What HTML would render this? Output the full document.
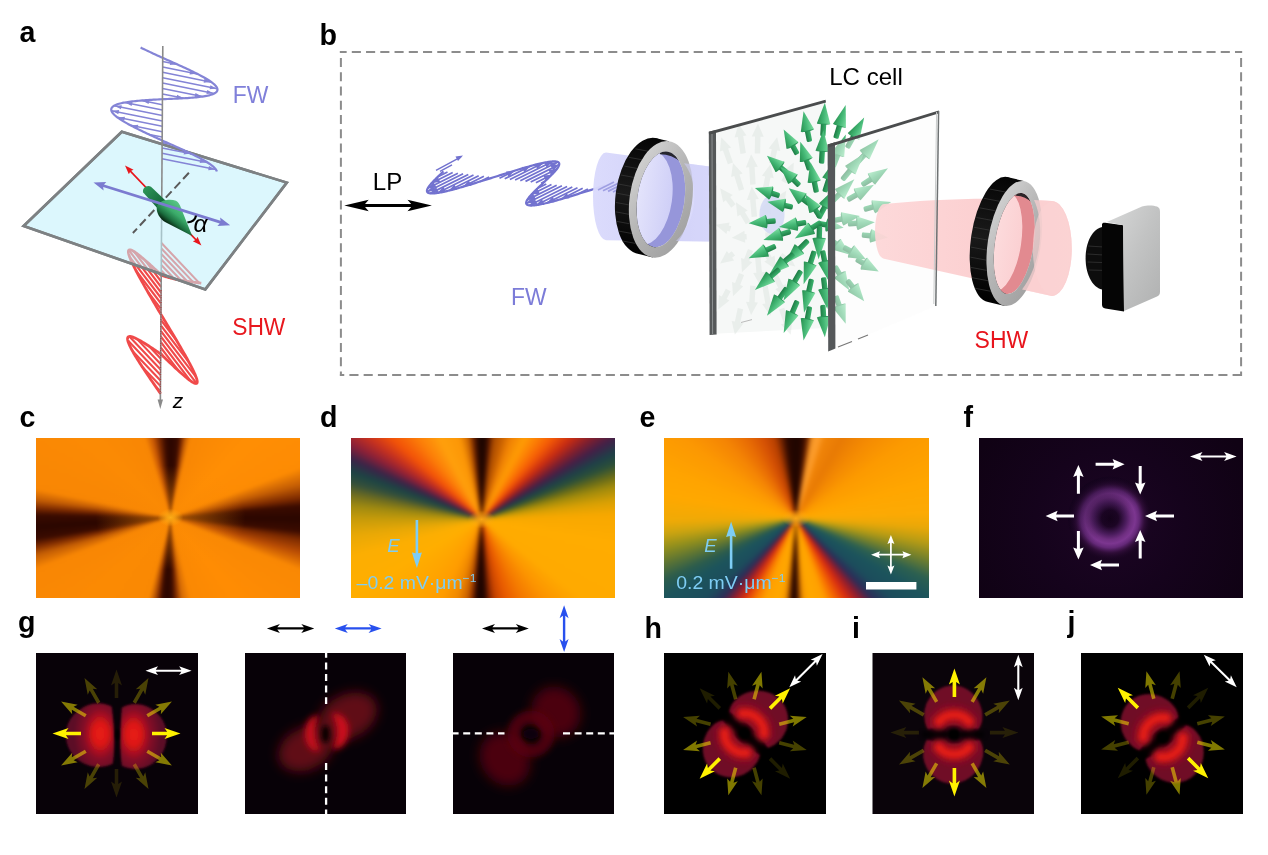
<!DOCTYPE html>
<html lang="en"><head><meta charset="utf-8"><title>Figure</title>
<style>
html,body{margin:0;padding:0;background:#fff;}
body{width:1268px;height:855px;overflow:hidden;position:relative;font-family:"Liberation Sans",sans-serif;}
#fig{position:absolute;left:0;top:0;width:1268px;height:855px;overflow:hidden;background:#fff;}
.pn{position:absolute;overflow:hidden;}
.pn>i{position:absolute;display:block;}
svg{position:absolute;left:0;top:0;}
text{font-family:"Liberation Sans",sans-serif;}
.lb{font-weight:bold;font-size:28.6px;fill:#000;}
</style></head>
<body><div id="fig">
<div class="pn" style="left:36px;top:438px;width:264px;height:160px;background:#fb8b04"><i style="left:-12px;top:-12px;width:288px;height:184px;background:conic-gradient(from 0deg at 146.5px 91.5px, #2a0600 0deg, #3a0b00 5.3deg, #7c2a00 8deg, #c25c04 10.5deg, #f88604 14deg, #ff8e04 45deg, #fd8b03 69deg, #c25c04 76deg, #7c2a00 81.5deg, #3a0b00 85deg, #2a0600 90.5deg, #3a0b00 96deg, #7c2a00 99.5deg, #b84c04 105deg, #f98804 112deg, #ff8c03 140deg, #fa8803 166deg, #d46a04 172deg, #7c2a00 176deg, #3a0b00 178.9deg, #2a0600 182.4deg, #3a0b00 185.9deg, #7c2a00 188.4deg, #c25c04 191.5deg, #f98803 195deg, #fb8a03 225deg, #f88604 249deg, #c25c04 254.5deg, #7c2a00 258deg, #3a0b00 261deg, #2a0600 266deg, #3a0b00 271deg, #7c2a00 274deg, #c25c04 277.5deg, #f88604 282deg, #fb8a04 315deg, #f88604 342deg, #c85804 347.5deg, #7c2a00 352deg, #3a0b00 356.3deg, #2a0600 360deg);filter:blur(1.8px)"></i><i style="left:0;top:0;width:264px;height:160px;background:radial-gradient(ellipse 75px 52px at 134.5px 79.5px, rgba(250,138,4,.62), rgba(250,138,4,.35) 45%, rgba(250,138,4,0) 100%)"></i><i style="left:0;top:0;width:264px;height:160px;background:radial-gradient(ellipse 13px 9px at 134.5px 79.5px, rgba(255,176,24,.95), rgba(255,150,10,0) 100%)"></i></div>
<div class="pn" style="left:350.5px;top:438px;width:264.5px;height:160px;background:#ffa400"><i style="left:-12px;top:-12px;width:288.5px;height:184px;background:conic-gradient(from 0deg at 142.5px 93.5px, #1a0500 0deg, #240700 3deg, #5a1800 5.5deg, #a84a00 8.5deg, #c86000 14deg, #f08204 20deg, #ff9c04 28deg, #fc7c04 35deg, #f45a06 41deg, #c82c12 48deg, #7c1e30 54deg, #422048 58.5deg, #1e4048 63.5deg, #2c5038 67.5deg, #6a6c18 72deg, #a08a0c 76deg, #d8a004 82deg, #f8a800 88deg, #ffac00 100deg, #ffaa00 128deg, #fc9400 141deg, #f47800 153deg, #e85a00 163deg, #c84400 170deg, #7a2000 175deg, #220500 177.5deg, #1c0400 183.5deg, #7a2400 186deg, #c86000 190deg, #f08800 197deg, #ff9c00 207deg, #ffa400 220deg, #ffae00 240deg, #fcae02 254deg, #e8a806 263deg, #c89c0a 270deg, #a08a10 276deg, #6e6c20 281deg, #36503a 285.5deg, #1c4444 290deg, #3a2448 295deg, #8a2038 300deg, #c43020 305.5deg, #f25208 312deg, #fc7e08 322deg, #ffa00c 333deg, #fc9606 345deg, #c86200 351deg, #6a2000 354.5deg, #260700 357.5deg, #1a0500 360deg);filter:blur(2.2px)"></i><i style="left:0;top:0;width:265px;height:160px;background:radial-gradient(ellipse 14px 9px at 130.5px 81.5px, rgba(255,170,20,.9), rgba(255,160,10,0) 100%)"></i></div>
<div class="pn" style="left:664px;top:438px;width:265px;height:160px;background:#ffa400"><i style="left:-12px;top:-12px;width:289px;height:184px;background:conic-gradient(from 0deg at 144px 92.29999999999995px, #1e0500 0deg, #2c0800 5deg, #7a2a00 8.5deg, #f09020 11deg, #ffa030 15deg, #f08408 20deg, #e87a04 30deg, #f48a02 42deg, #fc9a00 55deg, #ffa600 75deg, #fcaa04 88deg, #eaa808 94deg, #b89c14 100.5deg, #7c8428 106.5deg, #2c6050 114.5deg, #1c545c 121deg, #1c4c5c 130deg, #2c2c58 136.5deg, #8a1c30 141.5deg, #d82c10 147.5deg, #f87000 155.5deg, #ffa000 161deg, #ffa800 170deg, #f89800 175deg, #a04c00 177.5deg, #2a0800 179.6deg, #2a0800 183.2deg, #a04c00 185deg, #f89800 187.5deg, #ffa800 192deg, #ffa000 201deg, #f87800 206.5deg, #d83010 213deg, #8a1c30 218deg, #2c2c58 222.5deg, #1c4c5c 228.5deg, #1c545c 239deg, #2c5c4c 245deg, #5c7434 251deg, #94901c 257.5deg, #cca410 263.5deg, #f0aa06 269deg, #ffa800 280deg, #ffa400 290deg, #fc9802 305deg, #f48404 318deg, #e86c04 328deg, #d45004 338deg, #b84000 345deg, #6a2000 350deg, #2c0800 353.5deg, #1e0500 360deg);filter:blur(2.2px)"></i><i style="left:0;top:0;width:265px;height:160px;background:radial-gradient(ellipse 14px 9px at 132px 80.3px, rgba(255,170,20,.9), rgba(255,160,10,0) 100%)"></i></div>
<svg width="1268" height="855" viewBox="0 0 1268 855">
<defs>
<radialGradient id="fbg" cx="1110" cy="525" r="150" gradientUnits="userSpaceOnUse"><stop offset="0" stop-color="#1c0524"/><stop offset="0.5" stop-color="#15031c"/><stop offset="1" stop-color="#100214"/></radialGradient>
<radialGradient id="fring" cx="1110" cy="518.5" r="42" gradientUnits="userSpaceOnUse"><stop offset="0" stop-color="#14021a"/><stop offset="0.2" stop-color="#1c0524"/><stop offset="0.38" stop-color="#4a1c5c"/><stop offset="0.5" stop-color="#6e2e80"/><stop offset="0.6" stop-color="#7c3690"/><stop offset="0.7" stop-color="#642878"/><stop offset="0.82" stop-color="#36103f" stop-opacity=".8"/><stop offset="1" stop-color="#1a0522" stop-opacity="0"/></radialGradient>
<linearGradient id="fsh" x1="1085" y1="490" x2="1135" y2="548" gradientUnits="userSpaceOnUse"><stop offset="0" stop-color="#10021a" stop-opacity=".45"/><stop offset=".6" stop-color="#10021a" stop-opacity="0"/></linearGradient>
<filter id="bl1" x="-50%" y="-50%" width="200%" height="200%"><feGaussianBlur stdDeviation="1"/></filter>
<filter id="bl2" x="-50%" y="-50%" width="200%" height="200%"><feGaussianBlur stdDeviation="2"/></filter>
<filter id="bl3" x="-50%" y="-50%" width="200%" height="200%"><feGaussianBlur stdDeviation="3"/></filter>
<filter id="bl4" x="-50%" y="-50%" width="200%" height="200%"><feGaussianBlur stdDeviation="3.6"/></filter>
<filter id="bl6" x="-50%" y="-50%" width="200%" height="200%"><feGaussianBlur stdDeviation="6"/></filter>
<radialGradient id="lbL" cx="-16.5" cy="0" r="27" gradientTransform="scale(1 1.5)" gradientUnits="userSpaceOnUse"><stop offset="0" stop-color="#e81c12"/><stop offset="0.26" stop-color="#dc1814"/><stop offset="0.45" stop-color="#ac1020"/><stop offset="0.62" stop-color="#860c26"/><stop offset="0.85" stop-color="#6c0a28"/><stop offset="1" stop-color="#5c0826"/></radialGradient>
<radialGradient id="lbR" cx="17" cy="0.5" r="27" gradientTransform="scale(1 1.5)" gradientUnits="userSpaceOnUse"><stop offset="0" stop-color="#e81c12"/><stop offset="0.26" stop-color="#dc1814"/><stop offset="0.45" stop-color="#ac1020"/><stop offset="0.62" stop-color="#860c26"/><stop offset="0.85" stop-color="#6c0a28"/><stop offset="1" stop-color="#5c0826"/></radialGradient>
<linearGradient id="cyl" x1="0" y1="0" x2="1" y2="1" gradientUnits="objectBoundingBox"><stop offset="0" stop-color="#2f9a5c"/><stop offset="1" stop-color="#0e5a30"/></linearGradient>
<linearGradient id="cone" x1="182" y1="200" x2="160" y2="228" gradientUnits="userSpaceOnUse"><stop offset="0" stop-color="#66cf92"/><stop offset=".42" stop-color="#3aaa69"/><stop offset=".62" stop-color="#1c7040"/><stop offset=".78" stop-color="#06240f"/><stop offset="1" stop-color="#000"/></linearGradient>
<linearGradient id="blk" x1="0" y1="0" x2="0" y2="1"><stop offset="0" stop-color="#050505"/><stop offset=".5" stop-color="#1a1a1a"/><stop offset="1" stop-color="#000"/></linearGradient>
<linearGradient id="gry" x1="0" y1="0" x2="1" y2="1"><stop offset="0" stop-color="#d9d9d9"/><stop offset=".5" stop-color="#b4b4b4"/><stop offset="1" stop-color="#9c9c9c"/></linearGradient>
<linearGradient id="pb" x1="593" y1="0" x2="710" y2="0" gradientUnits="userSpaceOnUse"><stop offset="0" stop-color="#dadafc"/><stop offset=".5" stop-color="#d2d2f9"/><stop offset="1" stop-color="#dcdcfc"/></linearGradient>
<clipPath id="h1"><ellipse cx="660.9" cy="199.4" rx="23.6" ry="48.2"/></clipPath>
<linearGradient id="h1g" x1="0" y1="0" x2="1" y2="0"><stop offset="0" stop-color="#ebebfd"/><stop offset="1" stop-color="#cfcff7"/></linearGradient>
<linearGradient id="gs" x1="0" y1="0" x2="0" y2="1"><stop offset="0" stop-color="#1d7c45"/><stop offset="1" stop-color="#3cb46e"/></linearGradient>
<linearGradient id="gs2" x1="0" y1="0" x2="0" y2="1"><stop offset="0" stop-color="#3cb46e"/><stop offset="1" stop-color="#1d7c45"/></linearGradient>
<linearGradient id="gh" x1="0" y1="0" x2="0" y2="1"><stop offset="0" stop-color="#27904f"/><stop offset=".5" stop-color="#45b876"/><stop offset="1" stop-color="#7ddfa2"/></linearGradient>
<linearGradient id="gh2" x1="0" y1="0" x2="0" y2="1"><stop offset="0" stop-color="#7ddfa2"/><stop offset=".5" stop-color="#45b876"/><stop offset="1" stop-color="#27904f"/></linearGradient>
<linearGradient id="rb" x1="876" y1="0" x2="1072" y2="0" gradientUnits="userSpaceOnUse"><stop offset="0" stop-color="#fdd6d7"/><stop offset=".55" stop-color="#fbcccd"/><stop offset="1" stop-color="#fcd2d3"/></linearGradient>
<clipPath id="h2"><ellipse cx="1014.3" cy="243.5" rx="19.3" ry="51"/></clipPath>
<linearGradient id="h2g" x1="0" y1="0" x2="1" y2="0"><stop offset="0" stop-color="#fde0e1"/><stop offset="1" stop-color="#fbd0d2"/></linearGradient>
<linearGradient id="cam" x1="0" y1="0" x2="1" y2="1"><stop offset="0" stop-color="#d8d9d9"/><stop offset=".5" stop-color="#c2c3c3"/><stop offset="1" stop-color="#b0b1b1"/></linearGradient>
</defs>
<text class="lb" x="19.5" y="42">a</text>
<text class="lb" x="319.5" y="44.5">b</text>
<text class="lb" x="19.5" y="426.7">c</text>
<text class="lb" x="320" y="426.7">d</text>
<text class="lb" x="639.5" y="426.7">e</text>
<text class="lb" x="963.5" y="426.7">f</text>
<text class="lb" x="18" y="632.3">g</text>
<text class="lb" x="644.5" y="638">h</text>
<text class="lb" x="852" y="638">i</text>
<text class="lb" x="1067.4" y="632.3">j</text>
<path d="M339.9,51.9 H1242.1" stroke="#8c8c8c" stroke-width="2" stroke-dasharray="9.1 5.145" fill="none" stroke-dashoffset="2.345"/>
<path d="M339.9,374.9 H1242.1" stroke="#8c8c8c" stroke-width="2" stroke-dasharray="9.1 5.145" fill="none" stroke-dashoffset="4.745"/>
<path d="M340.9,50.9 V375.9" stroke="#8c8c8c" stroke-width="2" stroke-dasharray="9.1 5.145" fill="none" stroke-dashoffset="7.145"/>
<path d="M1241.1,50.9 V375.9" stroke="#8c8c8c" stroke-width="2" stroke-dasharray="9.1 5.145" fill="none" stroke-dashoffset="7.145"/>
<rect x="979" y="438" width="264" height="160" fill="url(#fbg)"/>
<ellipse cx="1110" cy="518.5" rx="42" ry="42" fill="url(#fring)"/><ellipse cx="1110" cy="518.5" rx="42" ry="42" fill="url(#fsh)"/>
<polygon points="1095.6,465.7 1114.04,465.7 1112.6,469.45 1124.6,464.2 1112.6,458.95 1114.04,462.7 1095.6,462.7" fill="#fff"/>
<polygon points="1138.7,466 1138.7,483.84 1134.95,482.4 1140.2,494.4 1145.45,482.4 1141.7,483.84 1141.7,466" fill="#fff"/>
<polygon points="1174,514.6 1155.56,514.6 1157,510.85 1145,516.1 1157,521.35 1155.56,517.6 1174,517.6" fill="#fff"/>
<polygon points="1141.7,558.4 1141.7,540.56 1145.45,542 1140.2,530 1134.95,542 1138.7,540.56 1138.7,558.4" fill="#fff"/>
<polygon points="1119,563.6 1100.56,563.6 1102,559.85 1090,565.1 1102,570.35 1100.56,566.6 1119,566.6" fill="#fff"/>
<polygon points="1076.9,531 1076.9,548.84 1073.15,547.4 1078.4,559.4 1083.65,547.4 1079.9,548.84 1079.9,531" fill="#fff"/>
<polygon points="1074,514.6 1056.16,514.6 1057.6,510.85 1045.6,516.1 1057.6,521.35 1056.16,517.6 1074,517.6" fill="#fff"/>
<polygon points="1079.9,493.8 1079.9,475.56 1083.65,477 1078.4,465 1073.15,477 1076.9,475.56 1076.9,493.8" fill="#fff"/>
<polygon points="1190,456.5 1202.5,460.9 1200.25,457.55 1226.35,457.55 1224.1,460.9 1236.6,456.5 1224.1,452.1 1226.35,455.45 1200.25,455.45 1202.5,452.1" fill="#fff"/>
<rect x="36" y="653" width="162" height="161" fill="#080208"/>
<rect x="245" y="653" width="161" height="161" fill="#070107"/>
<rect x="453" y="653" width="161" height="161" fill="#070107"/>
<rect x="664" y="653" width="162" height="161" fill="#000"/>
<rect x="872.5" y="653" width="161.5" height="161" fill="#0a040a"/>
<rect x="1081" y="653" width="162" height="161" fill="#000"/>
<g transform="translate(116.8 733.8) rotate(0)"><g filter="url(#bl1)"><path d="M-5,-27 C-22,-38 -51,-23 -51,1 C-51,25 -26,40 -4,30 C-1.5,14 -2.5,-8 -5,-27Z" fill="url(#lbL)"/><path d="M5,-26 C22,-37 50,-23 50,2 C50,27 26,42 5,32 C2.5,14 3.5,-8 5,-26Z" fill="url(#lbR)"/></g><ellipse cx="0.5" cy="1" rx="1.8" ry="6" fill="#050104" filter="url(#bl1)"/></g>
<polygon points="152,735.3 167.06,735.3 164.5,739 180.5,733.5 164.5,728 167.06,731.7 152,731.7" fill="#fff200" opacity="1.0"/>
<polygon points="148.14,717.31 161.19,709.78 160.82,714.26 171.93,701.5 155.32,704.74 159.39,706.66 146.34,714.19" fill="#fff200" opacity="0.5"/>
<polygon points="135.81,703.66 143.34,690.61 145.26,694.68 148.5,678.07 135.74,689.18 140.22,688.81 132.69,701.86" fill="#fff200" opacity="0.27"/>
<polygon points="118.3,698 118.3,682.94 122,685.5 116.5,669.5 111,685.5 114.7,682.94 114.7,698" fill="#fff200" opacity="0.12"/>
<polygon points="100.31,701.86 92.78,688.81 97.26,689.18 84.5,678.07 87.74,694.68 89.66,690.61 97.19,703.66" fill="#fff200" opacity="0.27"/>
<polygon points="86.66,714.19 73.61,706.66 77.68,704.74 61.07,701.5 72.18,714.26 71.81,709.78 84.86,717.31" fill="#fff200" opacity="0.5"/>
<polygon points="81,731.7 65.94,731.7 68.5,728 52.5,733.5 68.5,739 65.94,735.3 81,735.3" fill="#fff200" opacity="1.0"/>
<polygon points="84.86,749.69 71.81,757.22 72.18,752.74 61.07,765.5 77.68,762.26 73.61,760.34 86.66,752.81" fill="#fff200" opacity="0.5"/>
<polygon points="97.19,763.34 89.66,776.39 87.74,772.32 84.5,788.93 97.26,777.82 92.78,778.19 100.31,765.14" fill="#fff200" opacity="0.27"/>
<polygon points="114.7,769 114.7,784.06 111,781.5 116.5,797.5 122,781.5 118.3,784.06 118.3,769" fill="#fff200" opacity="0.12"/>
<polygon points="132.69,765.14 140.22,778.19 135.74,777.82 148.5,788.93 145.26,772.32 143.34,776.39 135.81,763.34" fill="#fff200" opacity="0.27"/>
<polygon points="146.34,752.81 159.39,760.34 155.32,762.26 171.93,765.5 160.82,752.74 161.19,757.22 148.14,749.69" fill="#fff200" opacity="0.5"/>
<polygon points="145.5,670.7 158,675.1 155.75,671.75 181.35,671.75 179.1,675.1 191.6,670.7 179.1,666.3 181.35,669.65 155.75,669.65 158,666.3" fill="#fff"/>
<g transform="translate(744.3 733.2) rotate(-47)"><g filter="url(#bl1)"><path d="M-5,-24 C-20,-36 -49,-22 -49,1 C-49,23 -24,37 -5,26 C-11,10 -11,-8 -5,-24Z" fill="#700c28"/><path d="M5,-25 C20,-37 49,-22 49,2 C49,24 24,38 5,27 C11,10 11,-8 5,-25Z" fill="#700c28"/></g><g filter="url(#bl3)" fill="none" stroke="#9c0e22" stroke-width="19" stroke-linecap="round"><path d="M-12.5,-14 A19 19 0 0 0 -12.5,15"/><path d="M12.5,-15 A19 19 0 0 1 12.5,14"/></g><g filter="url(#bl2)" fill="none" stroke="#e01a12" stroke-width="8.5" stroke-linecap="round"><path d="M-13,-15 A20 20 0 0 0 -13,15"/><path d="M13,-15 A20 20 0 0 1 13,15"/></g><ellipse cx="0" cy="0" rx="5" ry="5.5" fill="#030003" filter="url(#bl1)"/><path d="M-2.5,-30 L2.5,-30 L3,-6 L-3,-6Z M-3,6 L3,6 L2.5,32 L-2.5,32Z" fill="#030003" filter="url(#bl2)" opacity=".85"/></g>
<polygon points="779.66,726.05 794.2,722.15 792.69,726.39 806.72,716.94 789.84,715.76 793.27,718.68 778.72,722.57" fill="#fff200" opacity="0.5"/>
<polygon points="771.28,709.67 781.92,699.02 782.73,703.45 790.15,688.25 774.95,695.67 779.38,696.48 768.73,707.12" fill="#fff200" opacity="1.0"/>
<polygon points="755.83,699.68 759.72,685.13 762.64,688.56 761.46,671.68 752.01,685.71 756.25,684.2 752.35,698.74" fill="#fff200" opacity="0.5"/>
<polygon points="737.45,698.74 733.55,684.2 737.79,685.71 728.34,671.68 727.16,688.56 730.08,685.13 733.97,699.68" fill="#fff200" opacity="0.27"/>
<polygon points="721.07,707.12 710.42,696.48 714.85,695.67 699.65,688.25 707.07,703.45 707.88,699.02 718.52,709.67" fill="#fff200" opacity="0.12"/>
<polygon points="711.08,722.57 696.53,718.68 699.96,715.76 683.08,716.94 697.11,726.39 695.6,722.15 710.14,726.05" fill="#fff200" opacity="0.27"/>
<polygon points="710.14,740.95 695.6,744.85 697.11,740.61 683.08,750.06 699.96,751.24 696.53,748.32 711.08,744.43" fill="#fff200" opacity="0.5"/>
<polygon points="718.52,757.33 707.88,767.98 707.07,763.55 699.65,778.75 714.85,771.33 710.42,770.52 721.07,759.88" fill="#fff200" opacity="1.0"/>
<polygon points="733.97,767.32 730.08,781.87 727.16,778.44 728.34,795.32 737.79,781.29 733.55,782.8 737.45,768.26" fill="#fff200" opacity="0.5"/>
<polygon points="752.35,768.26 756.25,782.8 752.01,781.29 761.46,795.32 762.64,778.44 759.72,781.87 755.83,767.32" fill="#fff200" opacity="0.27"/>
<polygon points="768.73,759.88 779.38,770.52 774.95,771.33 790.15,778.75 782.73,763.55 781.92,767.98 771.28,757.33" fill="#fff200" opacity="0.12"/>
<polygon points="778.72,744.43 793.27,748.32 789.84,751.24 806.72,750.06 792.69,740.61 794.2,744.85 779.66,740.95" fill="#fff200" opacity="0.27"/>
<polygon points="789.3,687.2 801.25,681.47 797.29,680.69 816.09,661.89 816.87,665.85 822.6,653.9 810.65,659.63 814.61,660.41 795.81,679.21 795.03,675.25" fill="#fff"/>
<g transform="translate(954 734.5) rotate(90)"><g filter="url(#bl1)"><path d="M-5,-24 C-20,-36 -49,-22 -49,1 C-49,23 -24,37 -5,26 C-11,10 -11,-8 -5,-24Z" fill="#700c28"/><path d="M5,-25 C20,-37 49,-22 49,2 C49,24 24,38 5,27 C11,10 11,-8 5,-25Z" fill="#700c28"/></g><g filter="url(#bl3)" fill="none" stroke="#9c0e22" stroke-width="19" stroke-linecap="round"><path d="M-12.5,-14 A19 19 0 0 0 -12.5,15"/><path d="M12.5,-15 A19 19 0 0 1 12.5,14"/></g><g filter="url(#bl2)" fill="none" stroke="#e01a12" stroke-width="8.5" stroke-linecap="round"><path d="M-13,-15 A20 20 0 0 0 -13,15"/><path d="M13,-15 A20 20 0 0 1 13,15"/></g><ellipse cx="0" cy="0" rx="5" ry="5.5" fill="#030003" filter="url(#bl1)"/><path d="M-2.5,-30 L2.5,-30 L3,-6 L-3,-6Z M-3,6 L3,6 L2.5,32 L-2.5,32Z" fill="#030003" filter="url(#bl2)" opacity=".85"/></g>
<polygon points="989.9,734.4 1004.96,734.4 1002.4,738.1 1018.4,732.6 1002.4,727.1 1004.96,730.8 989.9,730.8" fill="#fff200" opacity="0.12"/>
<polygon points="986.04,716.41 999.09,708.88 998.72,713.36 1009.83,700.6 993.22,703.84 997.29,705.76 984.24,713.29" fill="#fff200" opacity="0.27"/>
<polygon points="973.71,702.76 981.24,689.71 983.16,693.78 986.4,677.17 973.64,688.28 978.12,687.91 970.59,700.96" fill="#fff200" opacity="0.5"/>
<polygon points="956.2,697.1 956.2,682.04 959.9,684.6 954.4,668.6 948.9,684.6 952.6,682.04 952.6,697.1" fill="#fff200" opacity="1.0"/>
<polygon points="938.21,700.96 930.68,687.91 935.16,688.28 922.4,677.17 925.64,693.78 927.56,689.71 935.09,702.76" fill="#fff200" opacity="0.5"/>
<polygon points="924.56,713.29 911.51,705.76 915.58,703.84 898.97,700.6 910.08,713.36 909.71,708.88 922.76,716.41" fill="#fff200" opacity="0.27"/>
<polygon points="918.9,730.8 903.84,730.8 906.4,727.1 890.4,732.6 906.4,738.1 903.84,734.4 918.9,734.4" fill="#fff200" opacity="0.12"/>
<polygon points="922.76,748.79 909.71,756.32 910.08,751.84 898.97,764.6 915.58,761.36 911.51,759.44 924.56,751.91" fill="#fff200" opacity="0.27"/>
<polygon points="935.09,762.44 927.56,775.49 925.64,771.42 922.4,788.03 935.16,776.92 930.68,777.29 938.21,764.24" fill="#fff200" opacity="0.5"/>
<polygon points="952.6,768.1 952.6,783.16 948.9,780.6 954.4,796.6 959.9,780.6 956.2,783.16 956.2,768.1" fill="#fff200" opacity="1.0"/>
<polygon points="970.59,764.24 978.12,777.29 973.64,776.92 986.4,788.03 983.16,771.42 981.24,775.49 973.71,762.44" fill="#fff200" opacity="0.5"/>
<polygon points="984.24,751.91 997.29,759.44 993.22,761.36 1009.83,764.6 998.72,751.84 999.09,756.32 986.04,748.79" fill="#fff200" opacity="0.27"/>
<polygon points="1018.3,654.7 1013.9,667.2 1017.25,664.95 1017.25,689.95 1013.9,687.7 1018.3,700.2 1022.7,687.7 1019.35,689.95 1019.35,664.95 1022.7,667.2" fill="#fff"/>
<g transform="translate(1163 737.5) rotate(50)"><g filter="url(#bl1)"><path d="M-5,-24 C-20,-36 -49,-22 -49,1 C-49,23 -24,37 -5,26 C-11,10 -11,-8 -5,-24Z" fill="#700c28"/><path d="M5,-25 C20,-37 49,-22 49,2 C49,24 24,38 5,27 C11,10 11,-8 5,-25Z" fill="#700c28"/></g><g filter="url(#bl3)" fill="none" stroke="#9c0e22" stroke-width="19" stroke-linecap="round"><path d="M-12.5,-14 A19 19 0 0 0 -12.5,15"/><path d="M12.5,-15 A19 19 0 0 1 12.5,14"/></g><g filter="url(#bl2)" fill="none" stroke="#e01a12" stroke-width="8.5" stroke-linecap="round"><path d="M-13,-15 A20 20 0 0 0 -13,15"/><path d="M13,-15 A20 20 0 0 1 13,15"/></g><ellipse cx="0" cy="0" rx="5" ry="5.5" fill="#030003" filter="url(#bl1)"/><path d="M-2.5,-30 L2.5,-30 L3,-6 L-3,-6Z M-3,6 L3,6 L2.5,32 L-2.5,32Z" fill="#030003" filter="url(#bl2)" opacity=".85"/></g>
<polygon points="1197.76,725.55 1212.3,721.65 1210.79,725.89 1224.82,716.44 1207.94,715.26 1211.37,718.18 1196.82,722.07" fill="#fff200" opacity="0.27"/>
<polygon points="1189.38,709.17 1200.02,698.52 1200.83,702.95 1208.25,687.75 1193.05,695.17 1197.48,695.98 1186.83,706.62" fill="#fff200" opacity="0.12"/>
<polygon points="1173.93,699.18 1177.82,684.63 1180.74,688.06 1179.56,671.18 1170.11,685.21 1174.35,683.7 1170.45,698.24" fill="#fff200" opacity="0.27"/>
<polygon points="1155.55,698.24 1151.65,683.7 1155.89,685.21 1146.44,671.18 1145.26,688.06 1148.18,684.63 1152.07,699.18" fill="#fff200" opacity="0.5"/>
<polygon points="1139.17,706.62 1128.52,695.98 1132.95,695.17 1117.75,687.75 1125.17,702.95 1125.98,698.52 1136.62,709.17" fill="#fff200" opacity="1.0"/>
<polygon points="1129.18,722.07 1114.63,718.18 1118.06,715.26 1101.18,716.44 1115.21,725.89 1113.7,721.65 1128.24,725.55" fill="#fff200" opacity="0.5"/>
<polygon points="1128.24,740.45 1113.7,744.35 1115.21,740.11 1101.18,749.56 1118.06,750.74 1114.63,747.82 1129.18,743.93" fill="#fff200" opacity="0.27"/>
<polygon points="1136.62,756.83 1125.98,767.48 1125.17,763.05 1117.75,778.25 1132.95,770.83 1128.52,770.02 1139.17,759.38" fill="#fff200" opacity="0.12"/>
<polygon points="1152.07,766.82 1148.18,781.37 1145.26,777.94 1146.44,794.82 1155.89,780.79 1151.65,782.3 1155.55,767.76" fill="#fff200" opacity="0.27"/>
<polygon points="1170.45,767.76 1174.35,782.3 1170.11,780.79 1179.56,794.82 1180.74,777.94 1177.82,781.37 1173.93,766.82" fill="#fff200" opacity="0.5"/>
<polygon points="1186.83,759.38 1197.48,770.02 1193.05,770.83 1208.25,778.25 1200.83,763.05 1200.02,767.48 1189.38,756.83" fill="#fff200" opacity="1.0"/>
<polygon points="1196.82,743.93 1211.37,747.82 1207.94,750.74 1224.82,749.56 1210.79,740.11 1212.3,744.35 1197.76,740.45" fill="#fff200" opacity="0.5"/>
<polygon points="1203.8,654.7 1209.6,666.61 1210.35,662.65 1228.67,680.74 1224.72,681.55 1236.7,687.2 1230.9,675.29 1230.15,679.25 1211.83,661.16 1215.78,660.35" fill="#fff"/>
<g transform="translate(326 733) rotate(-27)" filter="url(#bl6)"><ellipse cx="-25" cy="5" rx="29" ry="21" fill="#6a0818" opacity=".9"/><ellipse cx="27" cy="-5" rx="31" ry="22" fill="#6a0818" opacity=".9"/></g>
<g transform="translate(325.5 733)" filter="url(#bl3)"><path d="M-6,-17 C-17,-19 -22,-6 -20,6 C-18,16 -11,20 -5,17 C-12,8 -12,-7 -6,-17Z" fill="#c80a1a"/><path d="M6,-19 C18,-22 25,-9 23,1 C21,12 14,18 6,15 C13,6 13,-9 6,-19Z" fill="#cc0a1a"/></g>
<ellipse cx="325.5" cy="734" rx="4.5" ry="9" fill="#0a0206" filter="url(#bl2)"/>
<line x1="326.1" y1="650.8" x2="326.1" y2="704" stroke="#fff" stroke-width="2.3" stroke-dasharray="7 4.6"/>
<line x1="326.1" y1="763" x2="326.1" y2="814" stroke="#fff" stroke-width="2.3" stroke-dasharray="7 4.6"/>
<polygon points="266.9,628.4 279.9,632.9 277.3,629.6 303.9,629.6 301.3,632.9 314.3,628.4 301.3,623.9 303.9,627.2 277.3,627.2 279.9,623.9" fill="#000"/>
<polygon points="334.8,628.4 347.8,632.9 345.2,629.6 371.2,629.6 368.6,632.9 381.6,628.4 368.6,623.9 371.2,627.2 345.2,627.2 347.8,623.9" fill="#2850ee"/>
<g filter="url(#bl6)"><ellipse cx="556" cy="712" rx="24" ry="26" fill="#5c0412" opacity=".8" transform="rotate(-35 556 712)"/><ellipse cx="505" cy="759" rx="24" ry="28" fill="#5c0412" opacity=".8" transform="rotate(-35 505 759)"/></g>
<g filter="url(#bl3)"><circle cx="531" cy="734" r="17" fill="none" stroke="#5c0410" stroke-width="13" opacity=".8"/></g>
<ellipse cx="531" cy="734" rx="8" ry="5" fill="#10020a" filter="url(#bl2)"/>
<line x1="451.6" y1="733.4" x2="504.5" y2="733.4" stroke="#fff" stroke-width="2.3" stroke-dasharray="7 4.6"/>
<line x1="563" y1="733.4" x2="614.2" y2="733.4" stroke="#fff" stroke-width="2.3" stroke-dasharray="7 4.6"/>
<polygon points="482,628.4 495,632.9 492.4,629.6 518.4,629.6 515.8,632.9 528.8,628.4 515.8,623.9 518.4,627.2 492.4,627.2 495,623.9" fill="#000"/>
<polygon points="564.1,605.3 559.6,618.3 562.9,615.7 562.9,641.6 559.6,639 564.1,652 568.6,639 565.3,641.6 565.3,615.7 568.6,618.3" fill="#2850ee"/>
<g stroke="#f04a4a" fill="none" stroke-linecap="butt"><path d="M161.44,243L199.17,282.9M161.4,248.5L193.22,282.15M161.36,254L187.15,281.27M161.33,259.5L180.92,280.22M161.29,265L174.45,278.92M161.25,270.5L167.59,277.21M161.21,276L158.35,272.25M161.17,281.5L144.77,259.97M161.14,287L134.28,251.75M161.1,292.5L128.85,250.17M161.06,298L129.49,256.56M161.02,303.5L136.08,270.75M160.98,309L147.36,291.11M160.91,320L176.61,340.53M160.87,325.5L189.02,362.32M160.83,331L196.14,377.18M160.79,336.5L196.6,383.33M160.76,342L190.32,380.67M160.72,347.5L178.48,370.73M160.68,353L163.29,356.41M160.64,358.5L148.84,346.02M160.6,364L136.87,338.9M160.57,369.5L129.37,336.51M160.53,375L127.74,340.33M160.49,380.5L132.28,350.67M160.45,386L142.14,366.64M160.41,391.5L155.45,386.25" stroke-width="2.1"/><path d="M201.3,283.14 L200.77,283.08 L200.24,283.02 L199.7,282.96 L199.17,282.9 L198.63,282.83 L198.1,282.77 L197.56,282.7 L197.02,282.64 L196.48,282.57 L195.94,282.5 L195.4,282.43 L194.85,282.36 L194.31,282.29 L193.77,282.22 L193.22,282.15 L192.68,282.07 L192.13,282 L191.58,281.92 L191.03,281.85 L190.48,281.77 L189.93,281.69 L189.37,281.61 L188.82,281.52 L188.26,281.44 L187.71,281.35 L187.15,281.27 L186.59,281.18 L186.03,281.09 L185.47,281 L184.9,280.91 L184.34,280.81 L183.77,280.72 L183.2,280.62 L182.63,280.52 L182.06,280.42 L181.49,280.32 L180.92,280.22 L180.34,280.11 L179.76,280 L179.18,279.89 L178.6,279.78 L178.01,279.66 L177.42,279.55 L176.83,279.43 L176.24,279.3 L175.65,279.18 L175.05,279.05 L174.45,278.92 L173.85,278.78 L173.24,278.65 L172.63,278.51 L172.02,278.36 L171.4,278.21 L170.78,278.06 L170.15,277.9 L169.52,277.74 L168.88,277.57 L168.24,277.39 L167.59,277.21 L166.94,277.02 L166.27,276.82 L165.6,276.61 L164.91,276.39 L164.21,276.15 L163.49,275.89 L162.75,275.61 L161.95,275.28 L160.96,274.66 L159.65,273.45 L158.35,272.25 L157.06,271.05 L155.76,269.86 L154.48,268.68 L153.21,267.52 L151.95,266.37 L150.71,265.24 L149.48,264.13 L148.27,263.05 L147.08,261.99 L145.92,260.97 L144.77,259.97 L143.66,259.01 L142.57,258.09 L141.51,257.2 L140.48,256.36 L139.49,255.55 L138.53,254.8 L137.6,254.09 L136.71,253.43 L135.86,252.82 L135.05,252.26 L134.28,251.75 L133.56,251.3 L132.88,250.91 L132.24,250.58 L131.65,250.31 L131.1,250.1 L130.6,249.95 L130.15,249.86 L129.75,249.84 L129.4,249.89 L129.1,249.99 L128.85,250.17 L128.65,250.41 L128.5,250.72 L128.41,251.1 L128.36,251.55 L128.37,252.06 L128.43,252.64 L128.54,253.29 L128.7,254.01 L128.91,254.79 L129.18,255.64 L129.49,256.56 L129.85,257.54 L130.27,258.59 L130.73,259.7 L131.24,260.87 L131.8,262.11 L132.4,263.41 L133.05,264.76 L133.74,266.18 L134.48,267.65 L135.26,269.17 L136.08,270.75 L136.93,272.38 L137.83,274.07 L138.76,275.79 L139.73,277.57 L140.73,279.39 L141.77,281.25 L142.83,283.15 L143.92,285.09 L145.04,287.07 L146.19,289.07 L147.36,291.11 L148.55,293.18 L149.76,295.27 L150.99,297.39 L152.23,299.53 L153.49,301.68 L154.75,303.85 L156.03,306.03 L157.32,308.23 L158.61,310.43 L159.91,312.63 L161.24,314.88 L162.68,317.27 L164.12,319.66 L165.56,322.05 L166.99,324.42 L168.41,326.79 L169.82,329.13 L171.21,331.46 L172.59,333.77 L173.95,336.05 L175.29,338.31 L176.61,340.53 L177.9,342.73 L179.16,344.89 L180.4,347.01 L181.6,349.09 L182.78,351.13 L183.91,353.12 L185.02,355.06 L186.08,356.96 L187.1,358.8 L188.08,360.59 L189.02,362.32 L189.92,364 L190.77,365.61 L191.57,367.16 L192.32,368.65 L193.02,370.08 L193.67,371.43 L194.27,372.72 L194.82,373.94 L195.31,375.09 L195.75,376.17 L196.14,377.18 L196.46,378.11 L196.74,378.97 L196.95,379.76 L197.11,380.47 L197.21,381.1 L197.25,381.66 L197.24,382.15 L197.16,382.56 L197.03,382.89 L196.85,383.15 L196.6,383.33 L196.3,383.45 L195.94,383.48 L195.53,383.45 L195.06,383.34 L194.54,383.16 L193.97,382.91 L193.34,382.6 L192.66,382.21 L191.93,381.76 L191.15,381.25 L190.32,380.67 L189.45,380.03 L188.53,379.34 L187.57,378.58 L186.56,377.77 L185.52,376.91 L184.43,375.99 L183.31,375.03 L182.15,374.02 L180.96,372.96 L179.73,371.86 L178.48,370.73 L177.19,369.55 L175.89,368.35 L174.55,367.11 L173.2,365.84 L171.82,364.55 L170.43,363.23 L169.02,361.9 L167.6,360.54 L166.17,359.18 L164.73,357.8 L163.29,356.41 L161.84,355.02 L160.41,353.72 L159.1,352.84 L157.78,351.95 L156.48,351.07 L155.18,350.2 L153.88,349.34 L152.6,348.49 L151.33,347.65 L150.08,346.83 L148.84,346.02 L147.62,345.24 L146.43,344.48 L145.25,343.74 L144.1,343.02 L142.98,342.34 L141.88,341.68 L140.81,341.05 L139.77,340.46 L138.77,339.91 L137.8,339.38 L136.87,338.9 L135.97,338.46 L135.12,338.06 L134.3,337.7 L133.53,337.38 L132.8,337.11 L132.11,336.89 L131.47,336.71 L130.87,336.59 L130.32,336.51 L129.82,336.48 L129.37,336.51 L128.96,336.58 L128.61,336.71 L128.31,336.9 L128.05,337.13 L127.85,337.42 L127.7,337.77 L127.61,338.17 L127.56,338.63 L127.57,339.14 L127.63,339.7 L127.74,340.33 L127.9,341 L128.12,341.73 L128.38,342.52 L128.7,343.36 L129.06,344.25 L129.48,345.19 L129.95,346.19 L130.46,347.23 L131.02,348.33 L131.63,349.48 L132.28,350.67 L132.98,351.92 L133.72,353.2 L134.51,354.54 L135.33,355.91 L136.2,357.33 L137.1,358.79 L138.04,360.29 L139.02,361.82 L140.03,363.4 L141.07,365 L142.14,366.64 L143.24,368.31 L144.37,370 L145.53,371.73 L146.71,373.48 L147.9,375.25 L149.12,377.04 L150.36,378.85 L151.61,380.68 L152.88,382.53 L154.16,384.38 L155.45,386.25 L156.75,388.12 L158.05,390.01 L159.35,391.89 L160.66,393.78" stroke-width="2.8" stroke-linejoin="round"/></g>
<line x1="161.66" y1="211" x2="160.36" y2="400" stroke="#8a8a8a" stroke-width="1.6"/>
<polygon points="157.59,399.5 160.29,409 162.99,399.5" fill="#8a8a8a"/>
<line x1="161.11" y1="290" x2="160.4" y2="394" stroke="#b03030" stroke-width="1.2" stroke-dasharray="1.2 1.2" opacity=".8"/>
<polygon points="121.8,131.8 286.8,182.6 205.3,289.4 23.6,226" fill="#bff0fc" fill-opacity=".55" stroke="#7d8183" stroke-width="2.6" stroke-linejoin="miter"/>
<polygon points="121.8,131.8 286.8,182.6 205.3,289.4 23.6,226" fill="none" stroke="#7d8183" stroke-width="2.6"/>
<g stroke="#8484d6" fill="none"><path d="M162.69,61.5L177.54,64.49M162.66,66.9L197.37,73.9M162.62,72.3L211.43,82.14M162.58,77.7L217.36,88.75M162.54,83.1L214.18,93.51M162.51,88.5L202.41,96.55M162.47,93.9L184.01,98.24M162.39,104.7L141.65,100.52M162.36,110.1L124.71,102.51M162.32,115.5L114.04,105.76M162.28,120.9L111.39,110.64M162.25,126.3L117.22,117.22M162.21,131.7L130.53,125.31M162.17,137.1L149.11,134.47M162.13,142.5L170.45,144.18M162.1,147.9L191.39,153.81M162.06,153.3L207.45,162.45M162.02,158.7L215.97,169.58" stroke-width="1.5"/><path d="M140.61,47.53 L142.37,48.39 L144.16,49.25 L145.98,50.12 L147.82,50.99 L149.68,51.87 L151.57,52.75 L153.47,53.63 L155.38,54.52 L157.3,55.41 L159.23,56.3 L161.17,57.19 L163.13,58.08 L165.22,59.01 L167.3,59.93 L169.37,60.84 L171.44,61.76 L173.49,62.67 L175.52,63.59 L177.54,64.49 L179.53,65.4 L181.5,66.29 L183.45,67.19 L185.36,68.07 L187.24,68.95 L189.09,69.83 L190.9,70.69 L192.66,71.55 L194.39,72.4 L196.06,73.24 L197.69,74.06 L199.27,74.88 L200.79,75.69 L202.26,76.49 L203.68,77.27 L205.03,78.05 L206.32,78.81 L207.55,79.56 L208.72,80.29 L209.81,81.01 L210.84,81.72 L211.8,82.42 L212.69,83.1 L213.5,83.76 L214.25,84.41 L214.91,85.05 L215.51,85.67 L216.02,86.27 L216.46,86.86 L216.82,87.43 L217.1,87.99 L217.3,88.53 L217.43,89.06 L217.47,89.57 L217.44,90.06 L217.32,90.54 L217.13,91 L216.85,91.45 L216.5,91.88 L216.07,92.29 L215.57,92.69 L214.98,93.07 L214.32,93.44 L213.59,93.79 L212.78,94.13 L211.9,94.45 L210.95,94.76 L209.93,95.06 L208.84,95.34 L207.68,95.61 L206.46,95.86 L205.17,96.1 L203.82,96.33 L202.41,96.55 L200.95,96.75 L199.43,96.95 L197.85,97.13 L196.23,97.3 L194.55,97.47 L192.83,97.62 L191.07,97.76 L189.26,97.9 L187.42,98.03 L185.53,98.15 L183.62,98.27 L181.68,98.37 L179.7,98.48 L177.71,98.57 L175.69,98.67 L173.65,98.76 L171.59,98.84 L169.52,98.93 L167.44,99.01 L165.36,99.09 L163.27,99.17 L161.27,99.27 L159.32,99.37 L157.38,99.48 L155.45,99.59 L153.53,99.71 L151.62,99.82 L149.73,99.94 L147.85,100.07 L146,100.19 L144.17,100.32 L142.37,100.46 L140.59,100.6 L138.85,100.75 L137.14,100.91 L135.47,101.07 L133.83,101.24 L132.24,101.42 L130.69,101.61 L129.19,101.81 L127.74,102.02 L126.33,102.23 L124.98,102.46 L123.68,102.7 L122.44,102.95 L121.25,103.21 L120.13,103.49 L119.06,103.77 L118.06,104.07 L117.12,104.38 L116.25,104.71 L115.44,105.05 L114.71,105.4 L114.04,105.76 L113.44,106.14 L112.91,106.54 L112.45,106.95 L112.07,107.37 L111.75,107.81 L111.52,108.26 L111.35,108.73 L111.26,109.21 L111.24,109.71 L111.3,110.22 L111.42,110.75 L111.63,111.29 L111.9,111.84 L112.25,112.41 L112.67,113 L113.17,113.6 L113.73,114.21 L114.37,114.84 L115.07,115.49 L115.84,116.14 L116.68,116.81 L117.59,117.5 L118.55,118.19 L119.59,118.9 L120.68,119.62 L121.84,120.36 L123.05,121.1 L124.32,121.86 L125.64,122.62 L127.02,123.4 L128.45,124.19 L129.93,124.99 L131.45,125.8 L133.02,126.62 L134.63,127.44 L136.28,128.27 L137.97,129.12 L139.69,129.96 L141.44,130.82 L143.23,131.68 L145.04,132.54 L146.88,133.42 L148.74,134.29 L150.62,135.17 L152.51,136.05 L154.42,136.94 L156.35,137.83 L158.27,138.72 L160.21,139.61 L162.15,140.5 L164.23,141.42 L166.31,142.34 L168.39,143.26 L170.45,144.18 L172.51,145.09 L174.55,146 L176.57,146.91 L178.57,147.82 L180.54,148.72 L182.49,149.61 L184.41,150.5 L186.3,151.38 L188.15,152.25 L189.97,153.12 L191.74,153.98 L193.47,154.83 L195.16,155.67 L196.8,156.5 L198.39,157.32 L199.92,158.13 L201.4,158.93 L202.83,159.72 L204.19,160.49 L205.5,161.26 L206.74,162.01 L207.92,162.75 L209.03,163.47 L210.07,164.18 L211.04,164.88 L211.95,165.56 L212.78,166.23 L213.53,166.88 L214.22,167.52 L214.82,168.14 L215.35,168.75 L215.81,169.34 L216.18,169.92 L216.48,170.48 L216.7,171.03 L216.84,171.56" stroke-width="2.2" stroke-linejoin="round"/></g><g fill="#8484d6"><polygon points="176.56,64.3 169.77,65.07 170.6,60.95"/><polygon points="196.39,73.7 189.6,74.48 190.43,70.36"/><polygon points="210.45,81.94 203.66,82.72 204.49,78.6"/><polygon points="216.38,88.55 209.59,89.32 210.42,85.2"/><polygon points="213.2,93.31 206.42,94.09 207.25,89.97"/><polygon points="201.43,96.35 194.65,97.12 195.48,93.01"/><polygon points="183.03,98.04 176.24,98.82 177.07,94.7"/><polygon points="142.63,100.72 148.59,104.06 149.42,99.94"/><polygon points="125.69,102.71 131.65,106.05 132.48,101.93"/><polygon points="115.02,105.96 120.97,109.31 121.8,105.19"/><polygon points="112.37,110.84 118.33,114.18 119.16,110.06"/><polygon points="118.2,117.42 124.15,120.76 124.98,116.64"/><polygon points="131.51,125.51 137.47,128.85 138.3,124.74"/><polygon points="190.41,153.61 183.62,154.38 184.45,150.27"/><polygon points="206.47,162.26 199.69,163.03 200.52,158.91"/><polygon points="214.99,169.38 208.2,170.15 209.03,166.04"/></g>
<line x1="162.8" y1="46" x2="161.65" y2="213" stroke="#8a8a8a" stroke-width="1.6"/>
<line x1="188.9" y1="172.8" x2="132.9" y2="233" stroke="#5a5a5a" stroke-width="2" stroke-dasharray="8.5 4.2"/>
<polygon points="125,165.5 128.87,174.25 130.02,171.91 195.23,240.19 192.83,241.24 201.4,245.5 197.53,236.75 196.38,239.09 131.17,170.81 133.57,169.76" fill="#e8161c"/>
<path d="M143.2,192.6 C141.8,188.5 146.8,184.4 151,186.8 L166.5,201.5 L158.5,209.5 Z" fill="url(#cyl)"/>
<path d="M157,206 C159.5,200 170,198.5 176,200.8 C178.5,202 180,205 181,208 L192.2,236 L166,222.5 C160,219.5 155.5,212 157,206Z" fill="url(#cone)"/>
<polygon points="93.5,182.6 103.61,190.47 103.16,187.08 219.7,223.49 217.4,226.02 230.2,225.3 220.09,217.43 220.54,220.82 104,184.41 106.3,181.88" fill="#7b7bd0"/>
<path d="M187.4,222.2 C191.6,222.6 195.4,220 196,215.6" stroke="#000" stroke-width="2.2" fill="none"/>
<text x="193.6" y="232.2" font-size="24.5" font-style="italic" fill="#000">α</text>
<text x="232.8" y="103" font-size="23.7" fill="#8080da" textLength="35.6" lengthAdjust="spacingAndGlyphs">FW</text>
<text x="232.2" y="334.8" font-size="23.7" fill="#e8181e" textLength="53.2" lengthAdjust="spacingAndGlyphs">SHW</text>
<text x="172.8" y="408" font-size="21" font-style="italic" fill="#000">z</text>
<polygon points="344.3,205.5 368.7,211.2 365.04,206.95 411.16,206.95 407.5,211.2 431.9,205.5 407.5,199.8 411.16,204.05 365.04,204.05 368.7,199.8" fill="#000"/>
<text x="372.8" y="190" font-size="23.7" fill="#000" textLength="29.4" lengthAdjust="spacingAndGlyphs">LP</text>
<g stroke="#7272cf" fill="none"><path d="M447.5,171.89L437.97,176.64M452.7,172.52L431.77,182.96M457.9,173.15L427.82,188.15M463.1,173.79L427.11,191.73M468.3,174.42L430.27,193.38M473.5,175.05L437.51,193M478.7,175.68L448.62,190.68M483.9,176.32L462.97,186.75M489.1,176.95L479.57,181.7M499.5,178.22L514.5,170.74M504.7,178.85L530.2,166.14M509.9,179.48L543.16,162.9M515.1,180.11L552.54,161.45M520.3,180.75L557.9,162M525.5,181.38L559.21,164.57M530.7,182.01L556.9,168.95M535.9,182.65L551.78,174.73M541.1,183.28L544.95,181.36M546.3,183.91L537.7,188.2M551.5,184.54L531.38,194.57M556.7,185.18L527.22,199.87M561.9,185.81L526.23,203.59M567.1,186.44L529.08,205.4M572.3,187.07L536.01,205.17M577.5,187.71L546.84,202.99M582.7,188.34L560.97,199.17M587.9,188.97L577.44,194.19" stroke-width="1.7"/><path d="M443.5,171.4 L442.8,172.06 L442.09,172.72 L441.39,173.38 L440.69,174.04 L440,174.69 L439.32,175.35 L438.64,176 L437.97,176.64 L437.31,177.28 L436.66,177.91 L436.02,178.54 L435.39,179.16 L434.78,179.78 L434.18,180.39 L433.6,180.99 L433.04,181.58 L432.5,182.16 L431.97,182.73 L431.47,183.29 L430.99,183.84 L430.53,184.38 L430.09,184.91 L429.68,185.42 L429.3,185.93 L428.94,186.42 L428.6,186.89 L428.3,187.35 L428.02,187.8 L427.78,188.23 L427.56,188.65 L427.38,189.05 L427.22,189.44 L427.1,189.81 L427.01,190.16 L426.96,190.5 L426.94,190.82 L426.95,191.13 L427,191.41 L427.09,191.68 L427.21,191.93 L427.37,192.16 L427.56,192.37 L427.79,192.57 L428.06,192.74 L428.37,192.9 L428.71,193.04 L429.09,193.16 L429.51,193.26 L429.97,193.34 L430.47,193.4 L431,193.45 L431.58,193.47 L432.19,193.48 L432.83,193.47 L433.52,193.43 L434.24,193.38 L435,193.31 L435.8,193.23 L436.64,193.12 L437.51,193 L438.42,192.85 L439.36,192.69 L440.34,192.51 L441.35,192.32 L442.4,192.11 L443.48,191.88 L444.6,191.63 L445.74,191.37 L446.92,191.09 L448.13,190.8 L449.37,190.49 L450.64,190.17 L451.94,189.83 L453.27,189.48 L454.62,189.12 L456,188.74 L457.41,188.35 L458.84,187.94 L460.29,187.53 L461.77,187.1 L463.27,186.66 L464.79,186.22 L466.33,185.76 L467.89,185.29 L469.47,184.82 L471.06,184.33 L472.67,183.84 L474.29,183.34 L475.93,182.84 L477.57,182.32 L479.23,181.81 L480.9,181.28 L482.58,180.76 L484.26,180.23 L485.96,179.7 L487.65,179.16 L489.35,178.62 L491.05,178.08 L492.76,177.54 L494.46,177 L496.17,176.47 L497.87,175.93 L499.57,175.39 L501.26,174.86 L502.95,174.33 L504.63,173.8 L506.3,173.27 L507.96,172.76 L509.62,172.24 L511.26,171.73 L512.88,171.23 L514.5,170.74 L516.1,170.25 L517.68,169.77 L519.25,169.3 L520.79,168.84 L522.32,168.39 L523.83,167.95 L525.32,167.51 L526.78,167.09 L528.22,166.69 L529.64,166.29 L531.03,165.91 L532.39,165.54 L533.73,165.18 L535.04,164.84 L536.32,164.51 L537.58,164.19 L538.8,163.89 L539.99,163.61 L541.15,163.34 L542.28,163.09 L543.37,162.85 L544.43,162.64 L545.46,162.43 L546.45,162.25 L547.41,162.08 L548.33,161.93 L549.22,161.8 L550.07,161.69 L550.88,161.59 L551.66,161.52 L552.39,161.46 L553.1,161.42 L553.76,161.4 L554.39,161.4 L554.97,161.41 L555.52,161.45 L556.03,161.5 L556.51,161.58 L556.94,161.67 L557.34,161.78 L557.7,161.91 L558.02,162.06 L558.3,162.23 L558.55,162.42 L558.76,162.63 L558.93,162.85 L559.07,163.09 L559.17,163.35 L559.23,163.63 L559.26,163.93 L559.25,164.24 L559.21,164.57 L559.14,164.92 L559.03,165.28 L558.89,165.66 L558.72,166.06 L558.51,166.47 L558.28,166.9 L558.02,167.34 L557.72,167.8 L557.4,168.27 L557.05,168.75 L556.68,169.25 L556.27,169.76 L555.85,170.28 L555.4,170.81 L554.93,171.36 L554.43,171.92 L553.91,172.49 L553.38,173.06 L552.82,173.65 L552.25,174.25 L551.66,174.85 L551.06,175.46 L550.44,176.08 L549.8,176.71 L549.16,177.34 L548.5,177.98 L547.83,178.62 L547.16,179.27 L546.47,179.92 L545.78,180.57 L545.09,181.23 L544.39,181.89 L543.69,182.55 L542.98,183.21 L542.28,183.87 L541.57,184.53 L540.87,185.19 L540.17,185.85 L539.48,186.51 L538.79,187.16 L538.11,187.81 L537.43,188.46 L536.77,189.1 L536.11,189.73 L535.47,190.36 L534.84,190.99 L534.22,191.61 L533.62,192.22 L533.03,192.82 L532.46,193.41 L531.91,194 L531.38,194.57 L530.87,195.14 L530.38,195.69 L529.91,196.24 L529.46,196.77 L529.04,197.29 L528.65,197.8 L528.28,198.29 L527.93,198.77 L527.62,199.24 L527.33,199.7 L527.07,200.13 L526.84,200.56 L526.65,200.97 L526.48,201.36 L526.35,201.74 L526.24,202.1 L526.18,202.44 L526.14,202.77 L526.14,203.08 L526.18,203.37 L526.25,203.65 L526.36,203.9 L526.5,204.14 L526.68,204.36 L526.9,204.56 L527.15,204.75 L527.44,204.91 L527.77,205.06 L528.14,205.19 L528.54,205.29 L528.98,205.38 L529.47,205.45 L529.98,205.51 L530.54,205.54 L531.14,205.55 L531.77,205.55 L532.44,205.52 L533.15,205.48 L533.9,205.42 L534.68,205.34 L535.5,205.24 L536.36,205.12 L537.25,204.98 L538.18,204.83 L539.14,204.66 L540.14,204.47 L541.18,204.27 L542.24,204.04 L543.35,203.81 L544.48,203.55 L545.65,203.28 L546.84,202.99 L548.07,202.69 L549.33,202.37 L550.62,202.04 L551.93,201.7 L553.28,201.34 L554.65,200.96 L556.04,200.58 L557.46,200.18 L558.91,199.77 L560.38,199.35 L561.87,198.91 L563.38,198.47 L564.91,198.02 L566.46,197.55 L568.03,197.08 L569.62,196.6 L571.22,196.11 L572.84,195.61 L574.47,195.11 L576.11,194.6 L577.77,194.09 L579.43,193.57 L581.11,193.04 L582.79,192.51 L584.48,191.98 L586.17,191.45 L587.87,190.91 L589.57,190.37 L591.28,189.83 L592.98,189.29 L594.69,188.75 L596.39,188.22 L598.09,187.68 L599.78,187.14 L601.47,186.61 L603.16,186.08 L604.83,185.56" stroke-width="2.2" stroke-linejoin="round"/><path d="M436,170.4 L461,156.8 M440,171.4 L452,164.8" stroke-width="1.4"/></g><g fill="#7272cf"><polygon points="431.77,182.96 440.27,182.07 437.59,176.7"/><polygon points="427.82,188.15 436.32,187.26 433.64,181.89"/><polygon points="427.11,191.73 435.61,190.84 432.93,185.48"/><polygon points="430.27,193.38 438.76,192.5 436.09,187.13"/><polygon points="437.51,193 446.01,192.11 443.33,186.74"/><polygon points="448.62,190.68 457.12,189.79 454.44,184.43"/><polygon points="462.97,186.75 471.47,185.87 468.79,180.5"/><polygon points="514.5,170.74 508.68,176.99 506,171.62"/><polygon points="530.2,166.14 524.38,172.39 521.7,167.02"/><polygon points="543.16,162.9 537.33,169.15 534.66,163.79"/><polygon points="552.54,161.45 546.72,167.7 544.04,162.33"/><polygon points="557.9,162 552.08,168.26 549.4,162.89"/><polygon points="559.21,164.57 553.39,170.83 550.71,165.46"/><polygon points="556.9,168.95 551.08,175.2 548.41,169.83"/><polygon points="551.78,174.73 545.96,180.98 543.28,175.61"/><polygon points="531.38,194.57 539.88,193.69 537.2,188.32"/><polygon points="527.22,199.87 535.72,198.99 533.04,193.62"/><polygon points="526.23,203.59 534.73,202.71 532.05,197.34"/><polygon points="529.08,205.4 537.58,204.51 534.9,199.15"/><polygon points="536.01,205.17 544.51,204.28 541.83,198.91"/><polygon points="546.84,202.99 555.34,202.11 552.66,196.74"/><polygon points="560.97,199.17 569.47,198.29 566.79,192.92"/><polygon points="463,155.6 455.5,156.4 458,161"/></g>
<path d="M606,152.6 L709.5,166.6 L709.5,241.4 L606,240.2 A13,43.8 0 0 1 606,152.6Z" fill="url(#pb)" opacity=".96"/>
<g stroke="#7272cf" opacity=".55" stroke-width="1.8"><path d="M598,190 L614,182 M603,190.8 L624,180.5 M608,191.4 L633,179 M613,192 L640,178.6 M618,192.6 L637,183.2 M623,193.2 L634,187.8"/></g>
<g transform="rotate(8 660.9 199.4)"><ellipse cx="646.6" cy="197.9" rx="31.3" ry="58.6" fill="url(#blk)"/><polygon points="646.6,139.3 660.9,140.8 660.9,258 646.6,256.5" fill="url(#blk)"/><path d="M628.56,152.89L641.86,153.49M623.42,162.19L636.72,162.79M620.08,171.5L633.38,172.1M617.92,180.8L631.22,181.4M616.7,190.1L630,190.7M616.3,199.4L629.6,200M616.7,208.7L630,209.3M617.92,218L631.22,218.6M620.08,227.3L633.38,227.9M623.42,236.61L636.72,237.21M628.56,245.91L641.86,246.51" stroke="#3c3c3c" stroke-width=".8" opacity=".8"/><g clip-path="url(#h1)"><rect x="620.9" y="129.4" width="80" height="140" fill="#9696da"/><ellipse cx="647.9" cy="199.9" rx="24.1" ry="47.2" fill="url(#h1g)"/><path d="M651.46,150.2 L679.78,150.2 L675.53,159.7 Q665.62,153.2 653.82,154.7Z" fill="#1c1c20" opacity=".92"/></g><path fill-rule="evenodd" fill="url(#gry)" d="M629.6,199.4 a31.3,58.6 0 1,0 62.6,0 a31.3,58.6 0 1,0 -62.6,0Z M637.3,199.4 a23.6,48.2 0 1,0 47.2,0 a23.6,48.2 0 1,0 -47.2,0Z"/></g>
<path d="M684,163.2 L709.5,166.6 L709.5,241.4 L676,241 C698,220 700,184 684,163.2Z" fill="#cfcff8" opacity=".55"/>
<polygon points="709.5,131.5 825.5,100 825.5,328 709.5,334" fill="#f6f8f7"/>
<g opacity=".26"><polygon points="746.45,233.94 744.64,234.07 744.4,230.83 731.87,237.75 745.27,242.8 745.04,239.55 746.84,239.42" fill="#c6d2ca"/><polygon points="747.99,249.04 744.09,259.09 741.06,257.91 741.95,272.2 752.24,262.26 749.22,261.08 753.11,251.03" fill="#c6d2ca"/><polygon points="754.91,255.41 756.4,272.73 753.16,273.01 760.25,285.45 765.12,271.98 761.88,272.26 760.39,254.94" fill="#c6d2ca"/><polygon points="761.42,250.48 767.06,259.96 764.27,261.62 776.07,269.72 774.58,255.48 771.78,257.15 766.15,247.67" fill="#c6d2ca"/><polygon points="765.55,238.06 767.36,237.93 767.6,241.17 780.13,234.25 766.73,229.2 766.96,232.45 765.16,232.58" fill="#c6d2ca"/><polygon points="764.01,222.96 767.91,212.91 770.94,214.09 770.05,199.8 759.76,209.74 762.78,210.92 758.89,220.97" fill="#c6d2ca"/><polygon points="757.09,216.59 755.6,199.27 758.84,198.99 751.75,186.55 746.88,200.02 750.12,199.74 751.61,217.06" fill="#c6d2ca"/><polygon points="750.58,221.52 744.94,212.04 747.73,210.38 735.93,202.28 737.42,216.52 740.22,214.85 745.85,224.33" fill="#c6d2ca"/><polygon points="731.24,226.21 728.76,225.52 729.64,222.39 715.5,224.66 726.4,233.94 727.28,230.81 729.76,231.51" fill="#c6d2ca"/><polygon points="731.74,251.2 728.76,253.49 726.78,250.92 720.14,263.6 734.1,260.43 732.12,257.85 735.1,255.56" fill="#c6d2ca"/><polygon points="738.95,272.93 735.06,283.09 732.03,281.93 732.99,296.22 743.24,286.22 740.2,285.06 744.08,274.9" fill="#c6d2ca"/><polygon points="750.18,285.6 749.17,301.9 745.93,301.7 751.12,315.04 757.91,302.44 754.66,302.24 755.67,285.94" fill="#c6d2ca"/><polygon points="762.34,286.71 765.35,303.45 762.15,304.03 770.36,315.76 773.96,301.9 770.76,302.48 767.75,285.73" fill="#c6d2ca"/><polygon points="772.61,276.37 778.15,287.72 775.23,289.14 786.31,298.2 786.01,283.89 783.09,285.31 777.56,273.96" fill="#c6d2ca"/><polygon points="779.08,257.31 783.36,260.62 781.37,263.19 795.32,266.4 788.71,253.7 786.72,256.27 782.44,252.96" fill="#c6d2ca"/><polygon points="781.33,233.42 783.18,233.02 783.86,236.2 795.32,227.63 781.36,224.47 782.04,227.64 780.19,228.04" fill="#c6d2ca"/><polygon points="777.37,209.06 781.36,203.1 784.06,204.91 786.31,190.78 774.09,198.23 776.79,200.04 772.8,205.99" fill="#c6d2ca"/><polygon points="767.74,191.39 770.51,177.57 773.69,178.21 770.36,164.28 761.93,175.85 765.11,176.49 762.35,190.31" fill="#c6d2ca"/><polygon points="755.67,184.35 754.64,167.04 757.88,166.84 751.12,154.22 745.9,167.56 749.15,167.36 750.18,184.68" fill="#c6d2ca"/><polygon points="744.14,189.15 739.52,174.47 742.62,173.5 732.99,162.9 731.17,177.1 734.27,176.12 738.89,190.8" fill="#c6d2ca"/><polygon points="735.62,204.32 730.15,197.05 732.75,195.1 720.14,188.32 723.16,202.31 725.75,200.36 731.22,207.63" fill="#c6d2ca"/><polygon points="725.79,288.65 721.7,296.57 718.81,295.09 718.19,309.39 729.48,300.58 726.59,299.09 730.68,291.17" fill="#c6d2ca"/><polygon points="737.76,308.03 734.87,321.56 731.69,320.88 734.83,334.85 743.42,323.39 740.25,322.71 743.14,309.18" fill="#c6d2ca"/><polygon points="778.96,309.47 783.87,323.44 780.81,324.52 790.78,334.78 792.13,320.53 789.06,321.61 784.14,307.65" fill="#c6d2ca"/><polygon points="786.21,183.35 790.3,175.43 793.19,176.91 793.81,162.61 782.52,171.42 785.41,172.91 781.32,180.83" fill="#c6d2ca"/><polygon points="774.24,163.97 777.13,150.44 780.31,151.12 777.17,137.15 768.58,148.61 771.75,149.29 768.86,162.82" fill="#c6d2ca"/><polygon points="760.2,153.5 760.49,136.67 763.74,136.72 757.97,123.62 751.74,136.51 754.99,136.57 754.7,153.41" fill="#c6d2ca"/><polygon points="745.89,153.05 743.25,136.07 746.47,135.57 738.54,123.64 734.61,137.41 737.82,136.91 740.46,153.89" fill="#c6d2ca"/><polygon points="733.04,162.53 728.13,148.56 731.19,147.48 721.22,137.22 719.87,151.47 722.94,150.39 727.86,164.35" fill="#c6d2ca"/></g>
<polygon points="708.8,131.8 716,130 716.6,334.4 709.6,335" fill="#555859"/>
<polygon points="708.8,131.8 825.5,99.8 826,102.6 709,134.8" fill="#4a4c4d"/>
<line x1="712" y1="134" x2="712.6" y2="334" stroke="#8c9091" stroke-width="1"/>
<ellipse cx="772" cy="214.5" rx="12.5" ry="19.5" fill="#d3d9f5" opacity=".85"/>
<g><g transform="translate(822.81 136.34) rotate(-86.5)"><rect x="0" y="-2.7" width="13.75" height="5.4" rx="1.6" fill="url(#gs)"/><ellipse cx="12.75" cy="0" rx="0.96" ry="6.7" fill="#2a9558"/><polygon points="12.75,-6.7 33.53,0 12.75,6.7" fill="url(#gh)"/></g><g transform="translate(835.68 138.44) rotate(-73.34)"><rect x="0" y="-2.7" width="14.39" height="5.4" rx="1.6" fill="url(#gs)"/><ellipse cx="13.39" cy="0" rx="0.86" ry="6.7" fill="#2a9558"/><polygon points="13.39,-6.7 34.9,0 13.39,6.7" fill="url(#gh)"/></g><g transform="translate(809.65 141.8) rotate(-101.29)"><rect x="0" y="-2.7" width="12.62" height="5.4" rx="1.6" fill="url(#gs)"/><ellipse cx="11.62" cy="0" rx="1.14" ry="6.7" fill="#2a9558"/><polygon points="11.62,-6.7 31.12,0 11.62,6.7" fill="url(#gh)"/></g><g transform="translate(847.11 147.93) rotate(-60.71)"><rect x="0" y="-2.7" width="14.39" height="5.4" rx="1.6" fill="url(#gs)"/><ellipse cx="13.39" cy="0" rx="0.86" ry="6.7" fill="#2a9558"/><polygon points="13.39,-6.7 34.9,0 13.39,6.7" fill="url(#gh)"/></g><g transform="translate(797.36 154.34) rotate(-118.85)"><rect x="0" y="-2.7" width="11.33" height="5.4" rx="1.6" fill="url(#gs)"/><ellipse cx="10.33" cy="0" rx="1.34" ry="6.7" fill="#2a9558"/><polygon points="10.33,-6.7 28.38,0 10.33,6.7" fill="url(#gh)"/></g><g transform="translate(821.51 163.59) rotate(-86.73)"><rect x="0" y="-2.7" width="13.73" height="5.4" rx="1.6" fill="url(#gs)"/><ellipse cx="12.73" cy="0" rx="0.96" ry="6.7" fill="#2a9558"/><polygon points="12.73,-6.7 33.49,0 12.73,6.7" fill="url(#gh)"/></g><g transform="translate(833.01 167.06) rotate(-68.49)"><rect x="0" y="-2.7" width="14.47" height="5.4" rx="1.6" fill="url(#gs)"/><ellipse cx="13.47" cy="0" rx="0.85" ry="6.7" fill="#2a9558"/><polygon points="13.47,-6.7 35.07,0 13.47,6.7" fill="url(#gh)"/></g><g transform="translate(856.09 163.96) rotate(-47.55)"><rect x="0" y="-2.7" width="13.75" height="5.4" rx="1.6" fill="url(#gs)"/><ellipse cx="12.75" cy="0" rx="0.96" ry="6.7" fill="#2a9558"/><polygon points="12.75,-6.7 33.53,0 12.75,6.7" fill="url(#gh)"/></g><g transform="translate(809.66 170.14) rotate(-108.21)"><rect x="0" y="-2.7" width="12.07" height="5.4" rx="1.6" fill="url(#gs)"/><ellipse cx="11.07" cy="0" rx="1.22" ry="6.7" fill="#2a9558"/><polygon points="11.07,-6.7 29.97,0 11.07,6.7" fill="url(#gh)"/></g><g transform="translate(787.04 172.85) rotate(-139.76)"><rect x="0" y="-2.7" width="10.35" height="5.4" rx="1.6" fill="url(#gs)"/><ellipse cx="9.35" cy="0" rx="1.49" ry="6.7" fill="#2a9558"/><polygon points="9.35,-6.7 26.3,0 9.35,6.7" fill="url(#gh)"/></g><g transform="translate(842.18 179.94) rotate(-50.5)"><rect x="0" y="-2.7" width="13.94" height="5.4" rx="1.6" fill="url(#gs)"/><ellipse cx="12.94" cy="0" rx="0.93" ry="6.7" fill="#2a9558"/><polygon points="12.94,-6.7 33.93,0 12.94,6.7" fill="url(#gh)"/></g><g transform="translate(824.69 192.01) rotate(-72.18)"><rect x="0" y="-2.7" width="14.42" height="5.4" rx="1.6" fill="url(#gs)"/><ellipse cx="13.42" cy="0" rx="0.86" ry="6.7" fill="#2a9558"/><polygon points="13.42,-6.7 34.96,0 13.42,6.7" fill="url(#gh)"/></g><g transform="translate(799.51 185.57) rotate(-135.7)"><rect x="0" y="-2.7" width="10.49" height="5.4" rx="1.6" fill="url(#gs)"/><ellipse cx="9.49" cy="0" rx="1.47" ry="6.7" fill="#2a9558"/><polygon points="9.49,-6.7 26.58,0 9.49,6.7" fill="url(#gh)"/></g><g transform="translate(861.81 185.09) rotate(-32.76)"><rect x="0" y="-2.7" width="12.62" height="5.4" rx="1.6" fill="url(#gs2)"/><ellipse cx="11.62" cy="0" rx="1.14" ry="6.7" fill="#2a9558"/><polygon points="11.62,-6.7 31.12,0 11.62,6.7" fill="url(#gh2)"/></g><g transform="translate(816.51 192.59) rotate(-101.43)"><rect x="0" y="-2.7" width="12.61" height="5.4" rx="1.6" fill="url(#gs)"/><ellipse cx="11.61" cy="0" rx="1.14" ry="6.7" fill="#2a9558"/><polygon points="11.61,-6.7 31.1,0 11.61,6.7" fill="url(#gh)"/></g><g transform="translate(830.89 202.7) rotate(-44.88)"><rect x="0" y="-2.7" width="13.56" height="5.4" rx="1.6" fill="url(#gs)"/><ellipse cx="12.56" cy="0" rx="0.99" ry="6.7" fill="#2a9558"/><polygon points="12.56,-6.7 33.13,0 12.56,6.7" fill="url(#gh)"/></g><g transform="translate(779.6 195.68) rotate(-162.85)"><rect x="0" y="-2.7" width="10.13" height="5.4" rx="1.6" fill="url(#gs)"/><ellipse cx="9.13" cy="0" rx="1.52" ry="6.7" fill="#2a9558"/><polygon points="9.13,-6.7 25.82,0 9.13,6.7" fill="url(#gh)"/></g><g transform="translate(847.43 200) rotate(-29.78)"><rect x="0" y="-2.7" width="12.38" height="5.4" rx="1.6" fill="url(#gs2)"/><ellipse cx="11.38" cy="0" rx="1.17" ry="6.7" fill="#2a9558"/><polygon points="11.38,-6.7 30.62,0 11.38,6.7" fill="url(#gh2)"/></g><g transform="translate(809.47 204.22) rotate(-142.2)"><rect x="0" y="-2.7" width="10.29" height="5.4" rx="1.6" fill="url(#gs)"/><ellipse cx="9.29" cy="0" rx="1.5" ry="6.7" fill="#2a9558"/><polygon points="9.29,-6.7 26.16,0 9.29,6.7" fill="url(#gh)"/></g><g transform="translate(818.49 218.23) rotate(-61.13)"><rect x="0" y="-2.7" width="14.4" height="5.4" rx="1.6" fill="url(#gs)"/><ellipse cx="13.4" cy="0" rx="0.86" ry="6.7" fill="#2a9558"/><polygon points="13.4,-6.7 34.93,0 13.4,6.7" fill="url(#gh)"/></g><g transform="translate(792.81 207.21) rotate(-167.86)"><rect x="0" y="-2.7" width="10.2" height="5.4" rx="1.6" fill="url(#gs)"/><ellipse cx="9.2" cy="0" rx="1.51" ry="6.7" fill="#2a9558"/><polygon points="9.2,-6.7 25.97,0 9.2,6.7" fill="url(#gh)"/></g><g transform="translate(863.78 209.47) rotate(-15.2)"><rect x="0" y="-2.7" width="11.33" height="5.4" rx="1.6" fill="url(#gs2)"/><ellipse cx="10.33" cy="0" rx="1.34" ry="6.7" fill="#2a9558"/><polygon points="10.33,-6.7 28.38,0 10.33,6.7" fill="url(#gh2)"/></g><g transform="translate(820.42 217.52) rotate(-123.43)"><rect x="0" y="-2.7" width="11.06" height="5.4" rx="1.6" fill="url(#gs)"/><ellipse cx="10.06" cy="0" rx="1.38" ry="6.7" fill="#2a9558"/><polygon points="10.06,-6.7 27.8,0 10.06,6.7" fill="url(#gh)"/></g><g transform="translate(832.73 220.56) rotate(-9.44)"><rect x="0" y="-2.7" width="10.99" height="5.4" rx="1.6" fill="url(#gs2)"/><ellipse cx="9.99" cy="0" rx="1.39" ry="6.7" fill="#2a9558"/><polygon points="9.99,-6.7 27.66,0 9.99,6.7" fill="url(#gh2)"/></g><g transform="translate(775.71 220.81) rotate(174.85)"><rect x="0" y="-2.7" width="10.77" height="5.4" rx="1.6" fill="url(#gs)"/><ellipse cx="9.77" cy="0" rx="1.42" ry="6.7" fill="#2a9558"/><polygon points="9.77,-6.7 27.19,0 9.77,6.7" fill="url(#gh)"/></g><g transform="translate(847.85 223.78) rotate(-3.39)"><rect x="0" y="-2.7" width="10.69" height="5.4" rx="1.6" fill="url(#gs2)"/><ellipse cx="9.69" cy="0" rx="1.44" ry="6.7" fill="#2a9558"/><polygon points="9.69,-6.7 27.02,0 9.69,6.7" fill="url(#gh2)"/></g><g transform="translate(806.27 222.44) rotate(170.56)"><rect x="0" y="-2.7" width="10.99" height="5.4" rx="1.6" fill="url(#gs)"/><ellipse cx="9.99" cy="0" rx="1.39" ry="6.7" fill="#2a9558"/><polygon points="9.99,-6.7 27.66,0 9.99,6.7" fill="url(#gh)"/></g><g transform="translate(817.96 223.46) rotate(9.47)"><rect x="0" y="-2.7" width="10.25" height="5.4" rx="1.6" fill="url(#gs2)"/><ellipse cx="9.25" cy="0" rx="1.5" ry="6.7" fill="#2a9558"/><polygon points="9.25,-6.7 26.09,0 9.25,6.7" fill="url(#gh2)"/></g><g transform="translate(821.08 222.31) rotate(148.31)"><rect x="0" y="-2.7" width="12.53" height="5.4" rx="1.6" fill="url(#gs)"/><ellipse cx="11.53" cy="0" rx="1.15" ry="6.7" fill="#2a9558"/><polygon points="11.53,-6.7 30.94,0 11.53,6.7" fill="url(#gh)"/></g><g transform="translate(790.73 231.32) rotate(162.58)"><rect x="0" y="-2.7" width="11.47" height="5.4" rx="1.6" fill="url(#gs)"/><ellipse cx="10.47" cy="0" rx="1.31" ry="6.7" fill="#2a9558"/><polygon points="10.47,-6.7 28.69,0 10.47,6.7" fill="url(#gh)"/></g><g transform="translate(861.81 234.91) rotate(5.71)"><rect x="0" y="-2.7" width="10.35" height="5.4" rx="1.6" fill="url(#gs2)"/><ellipse cx="9.35" cy="0" rx="1.49" ry="6.7" fill="#2a9558"/><polygon points="9.35,-6.7 26.3,0 9.35,6.7" fill="url(#gh2)"/></g><g transform="translate(819.56 225.98) rotate(91.65)"><rect x="0" y="-2.7" width="13.62" height="5.4" rx="1.6" fill="url(#gs2)"/><ellipse cx="12.62" cy="0" rx="0.98" ry="6.7" fill="#2a9558"/><polygon points="12.62,-6.7 33.25,0 12.62,6.7" fill="url(#gh2)"/></g><g transform="translate(829.53 238.78) rotate(37.8)"><rect x="0" y="-2.7" width="10.29" height="5.4" rx="1.6" fill="url(#gs2)"/><ellipse cx="9.29" cy="0" rx="1.5" ry="6.7" fill="#2a9558"/><polygon points="9.29,-6.7 26.16,0 9.29,6.7" fill="url(#gh2)"/></g><g transform="translate(808.11 240.3) rotate(135.12)"><rect x="0" y="-2.7" width="13.56" height="5.4" rx="1.6" fill="url(#gs2)"/><ellipse cx="12.56" cy="0" rx="0.99" ry="6.7" fill="#2a9558"/><polygon points="12.56,-6.7 33.13,0 12.56,6.7" fill="url(#gh2)"/></g><g transform="translate(775.71 245.99) rotate(155.61)"><rect x="0" y="-2.7" width="11.97" height="5.4" rx="1.6" fill="url(#gs)"/><ellipse cx="10.97" cy="0" rx="1.24" ry="6.7" fill="#2a9558"/><polygon points="10.97,-6.7 29.73,0 10.97,6.7" fill="url(#gh)"/></g><g transform="translate(843.36 247.17) rotate(28.41)"><rect x="0" y="-2.7" width="10.12" height="5.4" rx="1.6" fill="url(#gs2)"/><ellipse cx="9.12" cy="0" rx="1.52" ry="6.7" fill="#2a9558"/><polygon points="9.12,-6.7 25.81,0 9.12,6.7" fill="url(#gh2)"/></g><g transform="translate(793.63 253.74) rotate(139.32)"><rect x="0" y="-2.7" width="13.25" height="5.4" rx="1.6" fill="url(#gs2)"/><ellipse cx="12.25" cy="0" rx="1.04" ry="6.7" fill="#2a9558"/><polygon points="12.25,-6.7 32.46,0 12.25,6.7" fill="url(#gh2)"/></g><g transform="translate(856.09 259.16) rotate(28.8)"><rect x="0" y="-2.7" width="10.13" height="5.4" rx="1.6" fill="url(#gs2)"/><ellipse cx="9.13" cy="0" rx="1.52" ry="6.7" fill="#2a9558"/><polygon points="9.13,-6.7 25.82,0 9.13,6.7" fill="url(#gh2)"/></g><g transform="translate(822.49 250.41) rotate(78.57)"><rect x="0" y="-2.7" width="12.61" height="5.4" rx="1.6" fill="url(#gs2)"/><ellipse cx="11.61" cy="0" rx="1.14" ry="6.7" fill="#2a9558"/><polygon points="11.61,-6.7 31.1,0 11.61,6.7" fill="url(#gh2)"/></g><g transform="translate(814.31 250.99) rotate(107.82)"><rect x="0" y="-2.7" width="14.42" height="5.4" rx="1.6" fill="url(#gs2)"/><ellipse cx="13.42" cy="0" rx="0.86" ry="6.7" fill="#2a9558"/><polygon points="13.42,-6.7 34.96,0 13.42,6.7" fill="url(#gh2)"/></g><g transform="translate(834.75 266.12) rotate(58.88)"><rect x="0" y="-2.7" width="11.19" height="5.4" rx="1.6" fill="url(#gs2)"/><ellipse cx="10.19" cy="0" rx="1.36" ry="6.7" fill="#2a9558"/><polygon points="10.19,-6.7 28.08,0 10.19,6.7" fill="url(#gh2)"/></g><g transform="translate(779.6 269.01) rotate(139.57)"><rect x="0" y="-2.7" width="13.23" height="5.4" rx="1.6" fill="url(#gs2)"/><ellipse cx="12.23" cy="0" rx="1.04" ry="6.7" fill="#2a9558"/><polygon points="12.23,-6.7 32.42,0 12.23,6.7" fill="url(#gh2)"/></g><g transform="translate(801 270.58) rotate(120.35)"><rect x="0" y="-2.7" width="14.36" height="5.4" rx="1.6" fill="url(#gs2)"/><ellipse cx="13.36" cy="0" rx="0.87" ry="6.7" fill="#2a9558"/><polygon points="13.36,-6.7 34.84,0 13.36,6.7" fill="url(#gh2)"/></g><g transform="translate(847.11 280.06) rotate(51.1)"><rect x="0" y="-2.7" width="10.77" height="5.4" rx="1.6" fill="url(#gs2)"/><ellipse cx="9.77" cy="0" rx="1.42" ry="6.7" fill="#2a9558"/><polygon points="9.77,-6.7 27.19,0 9.77,6.7" fill="url(#gh2)"/></g><g transform="translate(823.51 277.35) rotate(83.13)"><rect x="0" y="-2.7" width="12.97" height="5.4" rx="1.6" fill="url(#gs2)"/><ellipse cx="11.97" cy="0" rx="1.08" ry="6.7" fill="#2a9558"/><polygon points="11.97,-6.7 31.87,0 11.97,6.7" fill="url(#gh2)"/></g><g transform="translate(811.57 278.93) rotate(102.6)"><rect x="0" y="-2.7" width="14.25" height="5.4" rx="1.6" fill="url(#gs2)"/><ellipse cx="13.25" cy="0" rx="0.88" ry="6.7" fill="#2a9558"/><polygon points="13.25,-6.7 34.61,0 13.25,6.7" fill="url(#gh2)"/></g><g transform="translate(787.04 287.8) rotate(125.74)"><rect x="0" y="-2.7" width="14.15" height="5.4" rx="1.6" fill="url(#gs2)"/><ellipse cx="13.15" cy="0" rx="0.9" ry="6.7" fill="#2a9558"/><polygon points="13.15,-6.7 34.37,0 13.15,6.7" fill="url(#gh2)"/></g><g transform="translate(835.68 295.76) rotate(70.34)"><rect x="0" y="-2.7" width="11.97" height="5.4" rx="1.6" fill="url(#gs2)"/><ellipse cx="10.97" cy="0" rx="1.24" ry="6.7" fill="#2a9558"/><polygon points="10.97,-6.7 29.73,0 10.97,6.7" fill="url(#gh2)"/></g><g transform="translate(797.36 300.7) rotate(112.97)"><rect x="0" y="-2.7" width="14.48" height="5.4" rx="1.6" fill="url(#gs2)"/><ellipse cx="13.48" cy="0" rx="0.85" ry="6.7" fill="#2a9558"/><polygon points="13.48,-6.7 35.08,0 13.48,6.7" fill="url(#gh2)"/></g><g transform="translate(822.81 304.86) rotate(86.38)"><rect x="0" y="-2.7" width="13.23" height="5.4" rx="1.6" fill="url(#gs2)"/><ellipse cx="12.23" cy="0" rx="1.04" ry="6.7" fill="#2a9558"/><polygon points="12.23,-6.7 32.42,0 12.23,6.7" fill="url(#gh2)"/></g><g transform="translate(809.65 306.56) rotate(100.21)"><rect x="0" y="-2.7" width="14.15" height="5.4" rx="1.6" fill="url(#gs2)"/><ellipse cx="13.15" cy="0" rx="0.9" ry="6.7" fill="#2a9558"/><polygon points="13.15,-6.7 34.37,0 13.15,6.7" fill="url(#gh2)"/></g></g>
<polygon points="828.2,144.3 938.8,110.9 936,305.8 828.2,351.4" fill="#fbfcfc" opacity=".5"/>
<path d="M884,204.1 C930,199.5 990,196.5 1051.8,200.9 A20,47.5 0 0 1 1051.8,295.9 L884,258.7 A9,27.3 0 0 1 884,204.1Z" fill="url(#rb)" opacity=".93"/>
<polygon points="827.6,144.6 835,142.2 835.4,348.6 828.2,351.6" fill="#55585a"/>
<polygon points="827.6,144.6 938.8,110.6 939.2,113.2 828,147.6" fill="#4a4c4d"/>
<line x1="938.6" y1="111" x2="935.8" y2="306" stroke="#6e7273" stroke-width="1.5"/>
<line x1="936.6" y1="112" x2="933.8" y2="304" stroke="#c9cccc" stroke-width="1"/>
<path d="M838,347 L852,341.5 M858,339 L868,335" stroke="#777" stroke-width="1.2" fill="none"/>
<path d="M741,322.5 L752,319.6" stroke="#bbb" stroke-width="1" fill="none"/>
<g transform="rotate(8.6 1014.3 243.5)"><ellipse cx="997.1" cy="242" rx="26.5" ry="63.2" fill="url(#blk)"/><polygon points="997.1,178.8 1014.3,180.3 1014.3,306.7 997.1,305.2" fill="url(#blk)"/><path d="M981.98,193.34L998.18,193.94M977.63,203.37L993.83,203.97M974.8,213.4L991,214M972.97,223.44L989.17,224.04M971.94,233.47L988.14,234.07M971.6,243.5L987.8,244.1M971.94,253.53L988.14,254.13M972.97,263.56L989.17,264.16M974.8,273.6L991,274.2M977.63,283.63L993.83,284.23M981.98,293.66L998.18,294.26" stroke="#3c3c3c" stroke-width=".8" opacity=".8"/><g clip-path="url(#h2)"><rect x="974.3" y="173.5" width="80" height="140" fill="#e28a90"/><ellipse cx="1001.3" cy="244" rx="19.8" ry="50" fill="url(#h2g)"/><path d="M1006.58,191.5 L1029.74,191.5 L1026.27,201 Q1018.16,194.5 1008.51,196Z" fill="#1c1c20" opacity=".92"/></g><path fill-rule="evenodd" fill="url(#gry)" d="M987.8,243.5 a26.5,63.2 0 1,0 53,0 a26.5,63.2 0 1,0 -53,0Z M995,243.5 a19.3,51 0 1,0 38.6,0 a19.3,51 0 1,0 -38.6,0Z"/></g>
<path d="M1034,200 L1051.8,200.9 A20,47.5 0 0 1 1051.8,295.9 L1022,289.6 C1040,266 1046,226 1034,200Z" fill="#fbcfd0" opacity=".7"/>
<ellipse cx="1051.8" cy="248.4" rx="19" ry="46.5" fill="#fbd3d4" opacity=".6"/>
<path d="M1105.4,226.6 C1093,227 1085.6,241.5 1085.6,258.2 C1085.6,275 1093,289.6 1105.4,290 Z" fill="#0d0d0d"/>
<path d="M1088,246 L1104,247 M1087.4,254 L1104,255 M1087.6,262 L1104,262.6 M1088.6,270 L1104,270.4" stroke="#333" stroke-width=".8"/>
<path d="M1102,224.6 C1102,223 1103.4,222.4 1105.2,222.7 L1123.2,225.2 L1124,311.5 L1105.4,308.4 C1103,308 1102,306.6 1102,304.4 Z" fill="#050505"/>
<path d="M1106.8,221.9 L1142,206.4 C1149,204.6 1154,205.6 1157,206.6 C1159.4,207.6 1160,209.4 1160,212 L1160,291.5 C1160,294.4 1159,295.6 1157,296.6 L1124,311.1 L1123.2,225.2 Z" fill="url(#cam)"/>
<text x="829.2" y="84.8" font-size="23.7" fill="#000" textLength="73.6" lengthAdjust="spacingAndGlyphs">LC cell</text>
<text x="510.9" y="305" font-size="23.7" fill="#7c7cd8" textLength="35.6" lengthAdjust="spacingAndGlyphs">FW</text>
<text x="974.6" y="348" font-size="23.7" fill="#e8141c" textLength="53.6" lengthAdjust="spacingAndGlyphs">SHW</text>
<polygon points="415.6,520.1 415.6,553.27 411.9,552.5 416.9,568 421.9,552.5 418.2,553.27 418.2,520.1" fill="#7ecdf4"/>
<text x="387.2" y="551.7" font-size="18.6" font-style="italic" fill="#7ecdf4">E</text>
<text x="356.6" y="588.9" font-size="18.6" fill="#7ecdf4" textLength="119.8" lengthAdjust="spacingAndGlyphs">–0.2 mV·μm<tspan dy="-6.6" font-size="11.6">−1</tspan></text>
<polygon points="732.4,568.7 732.4,536.12 736.1,536.9 731.1,521.4 726.1,536.9 729.8,536.12 729.8,568.7" fill="#7ecdf4"/>
<text x="704.2" y="551.9" font-size="18.6" font-style="italic" fill="#7ecdf4">E</text>
<text x="676.2" y="588.9" font-size="18.6" fill="#7ecdf4" textLength="109.2" lengthAdjust="spacingAndGlyphs">0.2 mV·μm<tspan dy="-6.6" font-size="11.6">−1</tspan></text>
<rect x="866" y="582" width="50.4" height="7.5" fill="#fff"/>
<polygon points="871,554.7 880,558.2 878.92,555.55 903.48,555.55 902.4,558.2 911.4,554.7 902.4,551.2 903.48,553.85 878.92,553.85 880,551.2" fill="#fff"/>
<polygon points="890.9,534.9 887.4,543.9 890.05,542.82 890.05,566.68 887.4,565.6 890.9,574.6 894.4,565.6 891.75,566.68 891.75,542.82 894.4,543.9" fill="#fff"/>
</svg>
</div></body></html>
